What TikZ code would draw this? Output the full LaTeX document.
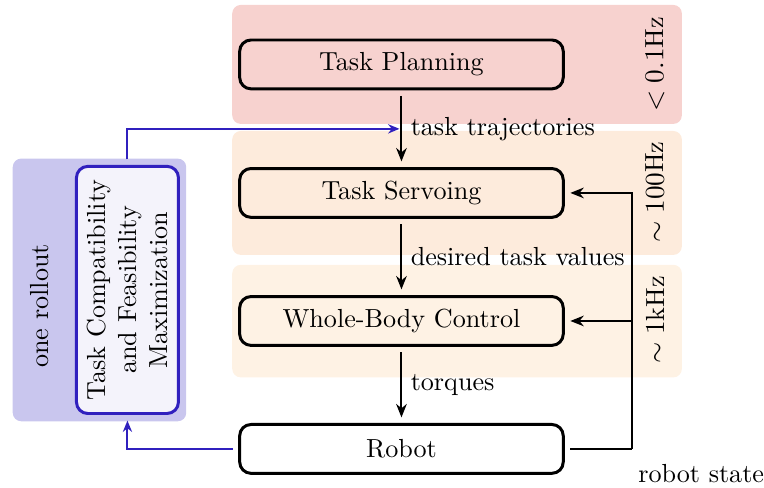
\documentclass[tikz,border=0pt]{standalone}
\usepackage{amsmath}
\usepackage{amssymb}
\usepackage{xcolor}
\usepackage{tikz}
\usetikzlibrary{arrows.meta, positioning}
\definecolor{rosa}{RGB}{247,210,207}
\definecolor{pessego}{RGB}{253,235,220}
\definecolor{creme}{RGB}{254,242,228}
\definecolor{lilas}{RGB}{201,198,238}
\definecolor{lilasclaro}{RGB}{244,243,251}
\definecolor{anil}{RGB}{48,32,190}

\begin{document}
\begin{tikzpicture}[
  font=\fontsize{10.5}{12.6}\selectfont,
  bloco/.style={draw, line width=1.2pt, rounded corners=1.6mm, minimum width=4.57cm,
    minimum height=0.69cm, outer sep=1mm},
  seta/.style={-{Stealth[length=1.9mm, width=1.5mm]}, thick},
  setaazul/.style={-{Stealth[length=1.6mm, width=1.3mm]}, thick, anil},
  faixa/.style={rounded corners=1.2mm},
  freq/.style={rotate=90}
]
  \useasboundingbox (0,0) rectangle (10.79,-6.88);
  % faixas de frequ\^encia
  \fill[rosa, faixa] (3.28,-0.07) rectangle (9.63,-1.75);
  \fill[pessego, faixa] (3.28,-1.85) rectangle (9.63,-3.60);
  \fill[creme, faixa] (3.28,-3.74) rectangle (9.63,-5.33);
  \node[freq] (f1) at (9.25,-0.91) {$<0.1$Hz};
  \node[freq] (f2) at (9.25,-2.71) {$\sim 100$Hz};
  \node[freq] (f3) at (9.25,-4.52) {$\sim 1$kHz};
  % blocos
  \node[bloco, fill=rosa] (plan) at (5.67,-0.91) {Task Planning};
  \node[bloco, fill=pessego] (servo) at (5.67,-2.725) {Task Servoing};
  \node[bloco, fill=creme] (wbc) at (5.67,-4.533) {Whole-Body Control};
  \node[bloco, fill=white] (robot) at (5.67,-6.34) {Robot};
  % setas verticais
  \draw[seta] (plan) -- (servo) node[midway, right] {task trajectories};
  \draw[seta] (servo) -- (wbc) node[midway, right] {desired task values};
  \draw[seta] (wbc) -- (robot) node[midway, right] {torques};
  % estado do rob\^o
  \coordinate (canto) at (8.92,-6.34);
  \draw[thick] (robot.east) -- (canto);
  \draw[seta] (canto) |- (servo.east);
  \draw[seta] (canto) |- (wbc.east);
  \node[anchor=west] (rs) at (8.89,-6.69) {robot state};
  % rollout
  \fill[lilas, faixa] (0.18,-2.24) rectangle (2.63,-5.95);
  \node[rotate=90] (roll) at (0.565,-4.32) {one rollout};
  \node[draw=anil, fill=lilasclaro, line width=1.2pt, rounded corners=1.6mm, rotate=90,
    minimum width=3.49cm, minimum height=1.44cm, align=center, outer sep=1mm]
    (tcfm) at (1.80,-4.095) {Task Compatibility\\and Feasibility\\Maximization};
  % liga\c{c}\~oes azuis
  \coordinate (tt) at (5.67,-1.82);
  \draw[setaazul, shorten >=0.8pt] (tcfm.east) |- (tt);
  \draw[setaazul] (robot.west) -| (tcfm.west);
\end{tikzpicture}
\end{document}
